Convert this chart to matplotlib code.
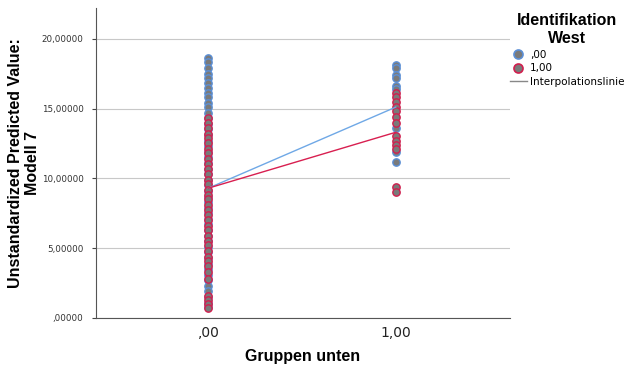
import matplotlib
matplotlib.use("Agg")
import matplotlib.pyplot as plt
from matplotlib.lines import Line2D

# Data
x_categories = [0, 1]
x_ticklabels = [",00", "1,00"]
y_ticks = [0, 5, 10, 15, 20]
y_ticklabels = [",00000", "5,00000", "10,00000", "15,00000", "20,00000"]

west0_at_x0 = [18.6, 18.3, 17.9, 17.5, 17.2, 16.8, 16.5, 16.1, 15.8, 15.4, 15.1,
               14.7, 14.3, 13.9, 13.5, 13.1, 12.7, 12.3, 11.9, 11.5, 11.1, 10.7,
               10.3, 9.9, 9.5, 9.1, 8.7, 8.3, 7.9, 7.5, 7.1, 6.7, 6.3, 5.9, 5.5,
               5.1, 4.7, 4.3, 3.9, 3.5, 3.1, 2.7, 2.3, 1.9, 1.5, 1.1, 0.8]
west0_at_x1 = [18.1, 17.9, 17.4, 17.2, 16.6, 16.4, 13.6, 11.9, 11.2]
west1_at_x0 = [14.3, 14.0, 13.6, 13.2, 12.9, 12.5, 12.1, 11.8, 11.4, 11.0, 10.7,
               10.3, 9.9, 9.6, 9.2, 8.8, 8.5, 8.1, 7.7, 7.4, 7.0, 6.6, 6.3, 5.9,
               5.5, 5.2, 4.8, 4.4, 4.1, 3.7, 3.3, 2.8, 1.6, 1.3, 1.0, 0.7]
west1_at_x1 = [16.1, 15.8, 15.5, 15.1, 14.8, 14.4, 14.0, 13.0, 12.7, 12.4, 12.1,
               9.4, 9.0]
west0_line = [9.3, 15.1]
west1_line = [9.3, 13.3]

blue_edge = "#5b8fd6"
red_edge = "#d11f4e"
fill = "#7a7a7a"
blue_line = "#6fa8e6"
red_line = "#d81f50"
label_font = ["Liberation Sans", "DejaVu Sans"]

fig = plt.figure(figsize=(6.28, 3.69), dpi=100)
ax = fig.add_axes([96/628, 51/369, 414/628, 310/369])

ax.set_xlim(-0.6, 1.61)
ax.set_ylim(0, 22.2)
ax.set_yticks(y_ticks)
ax.set_yticklabels(y_ticklabels, fontsize=6.3, color="#333333")
ax.set_xticks(x_categories)
ax.set_xticklabels(x_ticklabels, fontsize=10, color="#222222")
ax.tick_params(axis="y", length=3, width=0.8, color="#444444", pad=6)
ax.tick_params(axis="x", length=0, pad=6)
ax.grid(axis="y", color="#c8c8c8", linewidth=0.8)
ax.set_axisbelow(True)
for s in ["top", "right"]:
    ax.spines[s].set_visible(False)
for s in ["left", "bottom"]:
    ax.spines[s].set_color("#555555")
    ax.spines[s].set_linewidth(0.8)

ms = 28
ax.scatter([x_categories[0]] * len(west0_at_x0), west0_at_x0, s=ms, facecolor=fill,
           edgecolor=blue_edge, linewidth=1.0, zorder=3)
ax.scatter([x_categories[1]] * len(west0_at_x1), west0_at_x1, s=ms, facecolor=fill,
           edgecolor=blue_edge, linewidth=1.0, zorder=3)
ax.scatter([x_categories[0]] * len(west1_at_x0), west1_at_x0, s=ms, facecolor=fill,
           edgecolor=red_edge, linewidth=1.0, zorder=4)
ax.scatter([x_categories[1]] * len(west1_at_x1), west1_at_x1, s=ms, facecolor=fill,
           edgecolor=red_edge, linewidth=1.0, zorder=4)
ax.plot(x_categories, west0_line, color=blue_line, linewidth=1.0, zorder=5)
ax.plot(x_categories, west1_line, color=red_line, linewidth=1.0, zorder=5)

fig.text(303/628, 1 - 356/369, "Gruppen unten", fontsize=11.5, fontweight="bold",
         family=label_font, ha="center", va="center")
fig.text(24/628, 1 - 163/369, "Unstandardized Predicted Value:\nModell 7",
         fontsize=11.5, fontweight="bold", family=label_font, rotation=90,
         ha="center", va="center", multialignment="center", linespacing=1.15)

handles = [
    Line2D([], [], marker="o", linestyle="none", markersize=6.5, markerfacecolor=fill,
           markeredgecolor=blue_edge, markeredgewidth=1.2),
    Line2D([], [], marker="o", linestyle="none", markersize=6.5, markerfacecolor=fill,
           markeredgecolor=red_edge, markeredgewidth=1.2),
    Line2D([], [], color="#888888", linewidth=1.0),
]
leg = fig.legend(handles, [",00", "1,00", "Interpolationslinie"],
                 title="Identifikation\nWest", loc="upper left",
                 bbox_to_anchor=(510/628, 1 - 13/369), frameon=False,
                 fontsize=7.5, handlelength=1.6, handletextpad=0.3,
                 labelspacing=0.35, borderaxespad=0, borderpad=0)
leg.get_title().set_fontsize(11.5)
leg.get_title().set_fontweight("bold")
leg.get_title().set_family(label_font)
leg.get_title().set_linespacing(1.25)
leg.get_title().set_multialignment("center")

fig.savefig("out.png", dpi=100)
